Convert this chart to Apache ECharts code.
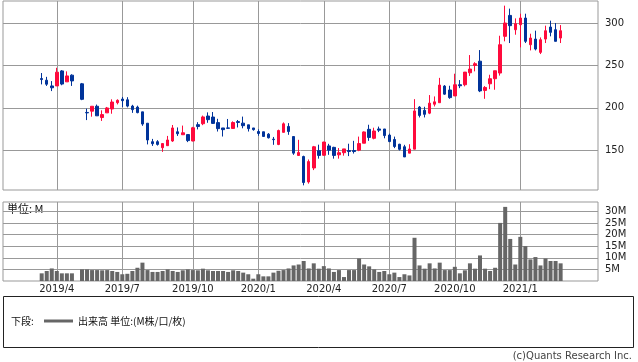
<!DOCTYPE html>
<html><head><meta charset="utf-8">
<script src="https://cdn.jsdelivr.net/npm/echarts@6/dist/echarts.min.js"></script>
<style>html,body{margin:0;padding:0;background:#fff}#c{width:638px;height:362px}</style>
</head><body><div id="c"></div>
<script>
// weekly bars, index 0 = week of 2019-03-11 ; index 7 = Golden Week (no trading)
const tickIndex = [3, 16, 30, 43, 56, 69, 82, 95];
const tickLabels = ['2019/4', '2019/7', '2019/10', '2020/1', '2020/4', '2020/7', '2020/10', '2021/1'];
const priceTicks = [150, 200, 250, 300];
const volTicks = [5, 10, 15, 20, 25, 30];

const open = [234.5,232.5,225.8,225.8,243.5,230.6,238.5,null,228.3,194.5,196,201.8,188.5,194,198.6,206,210.3,209.4,202,200.8,195.2,181.8,160,160,152.9,155.3,160.8,171.7,168.2,168.4,160.8,180.1,181.2,190.3,189.1,182.5,176.2,176.3,175.6,183.7,181.9,179.9,176.2,172,171.7,168.9,163,156.7,171,178,166.1,143.7,142.5,112.5,129,149.4,144,155,153.3,144.5,147,149.6,149.6,150,158.2,174.6,164,175,175,167.8,162.6,157,154,146.5,151.2,200.8,197,193.7,204.2,206,225.6,221,214,227.2,227.2,241.3,250,255,220.5,228.3,234.3,241,284.3,309,292.1,298,305.9,274.4,281.1,265.4,281.1,295.3,292.1,282.3];
const close = [233.3,227.8,223.6,242,228,237.6,231.7,null,210,194,201.8,190.5,192,199.8,206.8,208.8,208.4,202,197.8,194.3,180.8,162,157.6,156.8,157.8,162,176.2,169.4,170.5,161.3,176.4,177.9,189.2,186,181.6,175.4,174.2,175.8,182.6,182.7,178.9,175.4,174.2,169.7,166.2,164.6,162.4,173.2,181.1,172,146.5,147.2,111.8,136.5,154,143.8,159.6,150,143.8,147,151.5,148.4,148.4,157.8,171.5,165,172.6,173.6,167.2,160.1,154.3,151,142,151.4,196.3,191,192.3,205.5,207,226.8,216.1,212,227.2,226,242.1,245.7,252,219.9,224,234.3,243.7,274.4,300,296.9,299.2,305.9,278.4,282.3,269.3,280.3,290.9,289,278.4,290.9];
const low = [227.6,225.8,219.7,225.8,226.6,230.6,225.8,null,209,185.5,189.5,190.5,184.5,194,193,204,201,200.5,194,193.5,178.7,156.8,155,155.4,148,155.3,159.8,166.8,168,159.5,160.5,174.5,179.5,182.3,181,172,166.1,175.2,175.6,176.8,175.8,172,173,167,165.7,163.8,156.3,155.9,171,168.1,144.5,143.7,108.5,110.5,126.5,140,143.5,144.5,140,140,143.5,143,146,148.8,158.2,161,162.8,171.3,164,159.5,152.4,149.6,142,146.5,151.2,188.6,188.6,192.5,201.6,206,215.4,210.6,214,223.2,225.3,237.6,243,218.5,210.6,222,221.3,238,278.4,276.4,286.2,271.3,276.4,267.7,267.7,263.4,276.4,284.3,278.4,276.4];
const high = [241,236.5,231.5,247.2,244.5,243,239.5,null,229.3,199,201.8,203.8,197,201,210,210,212.8,212.5,203.5,202.5,195.2,181.8,163.3,161.8,158.1,166.8,179.7,176.8,179,168.4,177.5,183,190.8,194.6,195,187,176.2,186.8,184,185.6,189.6,179.9,176.2,174.6,171.7,170.1,165.6,174.2,182.7,181.9,166.1,162.2,143.5,139,155,156.5,159.8,157.5,154,152.5,151.5,157.6,161,166,172.1,180,176.5,177.8,175,169.5,166,157.5,156.3,157,210.2,202,201.2,215,213.4,235.3,226.8,226,240.2,232.7,242.1,262.2,253.8,268.1,225.6,239,243.7,285,320.5,317,305.5,311,311,287.4,291,283,296.9,302.8,300,297.6];
const volume = [3.3,4.3,5.4,4.3,3.3,3.3,3.3,null,5.0,5.0,4.7,4.7,4.6,4.7,4.3,3.9,2.9,3.1,4.3,5.7,7.9,4.7,3.9,3.9,4.3,5.0,4.3,3.9,4.6,5.0,4.7,4.6,5.3,4.6,4.3,4.3,4.3,3.9,4.6,4.3,3.6,2.9,1.0,2.9,2.0,2.0,3.6,4.4,4.7,5.4,6.7,7.1,8.6,5.4,7.6,5.3,6.4,5.4,3.9,4.7,1.7,4.7,4.7,9.7,7.1,6.3,5.0,3.9,4.3,2.9,3.6,1.7,2.9,2.4,18.6,6.7,5.3,7.6,5.4,7.9,4.7,4.7,6.1,3.3,4.6,7.6,5.3,11,5.3,4.3,5.7,25,31.9,18.1,7.1,19,15,9.3,10.3,6.7,9.7,8.6,8.6,7.6];

const candleData = [], volData = [];
for (let i = 0; i < open.length; i++) {
  if (open[i] != null) candleData.push([i, open[i], close[i], low[i], high[i]]);
  if (volume[i] != null) volData.push([i, volume[i]]);
}

const FONT = 'DejaVu Sans';
const GRID = '#999';
const XMIN = -7.68, XMAX = 110.42;

function xAxisCfg(gi, showLabel) {
  return {
    type: 'value', gridIndex: gi, min: XMIN, max: XMAX,
    axisLine: { show: false },
    axisTick: { show: false, customValues: tickIndex },
    axisLabel: {
      show: showLabel, customValues: tickIndex, margin: 3,
      color: '#222', fontSize: 10, fontFamily: FONT,
      formatter: v => tickLabels[tickIndex.indexOf(Math.round(v))] || ''
    },
    splitLine: { show: true, lineStyle: { color: GRID, width: 1 } }
  };
}

const chart = echarts.init(document.getElementById('c'), null, { renderer: 'canvas' });
chart.setOption({
  animation: false,
  backgroundColor: '#fff',
  grid: [
    { left: 3, right: 40, top: 1, height: 189, show: true, borderColor: GRID, borderWidth: 1 },
    { left: 3, right: 40, top: 202, height: 79, show: true, borderColor: GRID, borderWidth: 1 }
  ],
  xAxis: [xAxisCfg(0, false), xAxisCfg(1, true)],
  yAxis: [
    {
      type: 'value', gridIndex: 0, position: 'right', min: 103, max: 326,
      axisLine: { show: false },
      axisTick: { show: false, customValues: priceTicks },
      axisLabel: { customValues: priceTicks, color: '#222', fontSize: 10, fontFamily: FONT, margin: 7 },
      splitLine: { show: true, lineStyle: { color: GRID, width: 1 } }
    },
    {
      type: 'value', gridIndex: 1, position: 'right', min: 0, max: 34,
      axisLine: { show: false },
      axisTick: { show: false, customValues: volTicks },
      axisLabel: { customValues: volTicks, color: '#222', fontSize: 10, fontFamily: FONT, margin: 7, formatter: v => v + 'M' },
      splitLine: { show: true, lineStyle: { color: GRID, width: 1 } }
    }
  ],
  series: [
    {
      type: 'candlestick', xAxisIndex: 0, yAxisIndex: 0, data: candleData,
      barWidth: 3,
      itemStyle: { color: '#ff0a3c', color0: '#00339a', borderColor: '#ff0a3c', borderColor0: '#00339a', borderWidth: 1 }
    },
    {
      type: 'bar', xAxisIndex: 1, yAxisIndex: 1, data: volData, barWidth: 4,
      itemStyle: { color: '#666' }
    }
  ],
  graphic: [
    { type: 'text', left: 7, top: 203, style: { text: '単位: M', fill: '#111', font: '11px "Noto Sans CJK JP", sans-serif' } },
    { type: 'rect', shape: { x: 3.5, y: 296.5, width: 630, height: 51 }, style: { fill: 'none', stroke: '#222', lineWidth: 1 } },
    { type: 'text', x: 11, y: 321, style: { text: '下段:', fill: '#111', font: '10px "Noto Sans CJK JP", sans-serif', textVerticalAlign: 'middle' } },
    { type: 'line', shape: { x1: 44, y1: 321, x2: 73, y2: 321 }, style: { stroke: '#666', lineWidth: 3 } },
    { type: 'text', x: 78, y: 321, style: { text: '出来高 単位:(M株/口/枚)', fill: '#111', font: '10px "Noto Sans CJK JP", sans-serif', textVerticalAlign: 'middle' } },
    { type: 'text', x: 632, y: 356, style: { text: '(c)Quants Research Inc.', fill: '#444', font: '10px "DejaVu Sans", sans-serif', textAlign: 'right', textVerticalAlign: 'middle' } }
  ]
});
</script></body></html>
